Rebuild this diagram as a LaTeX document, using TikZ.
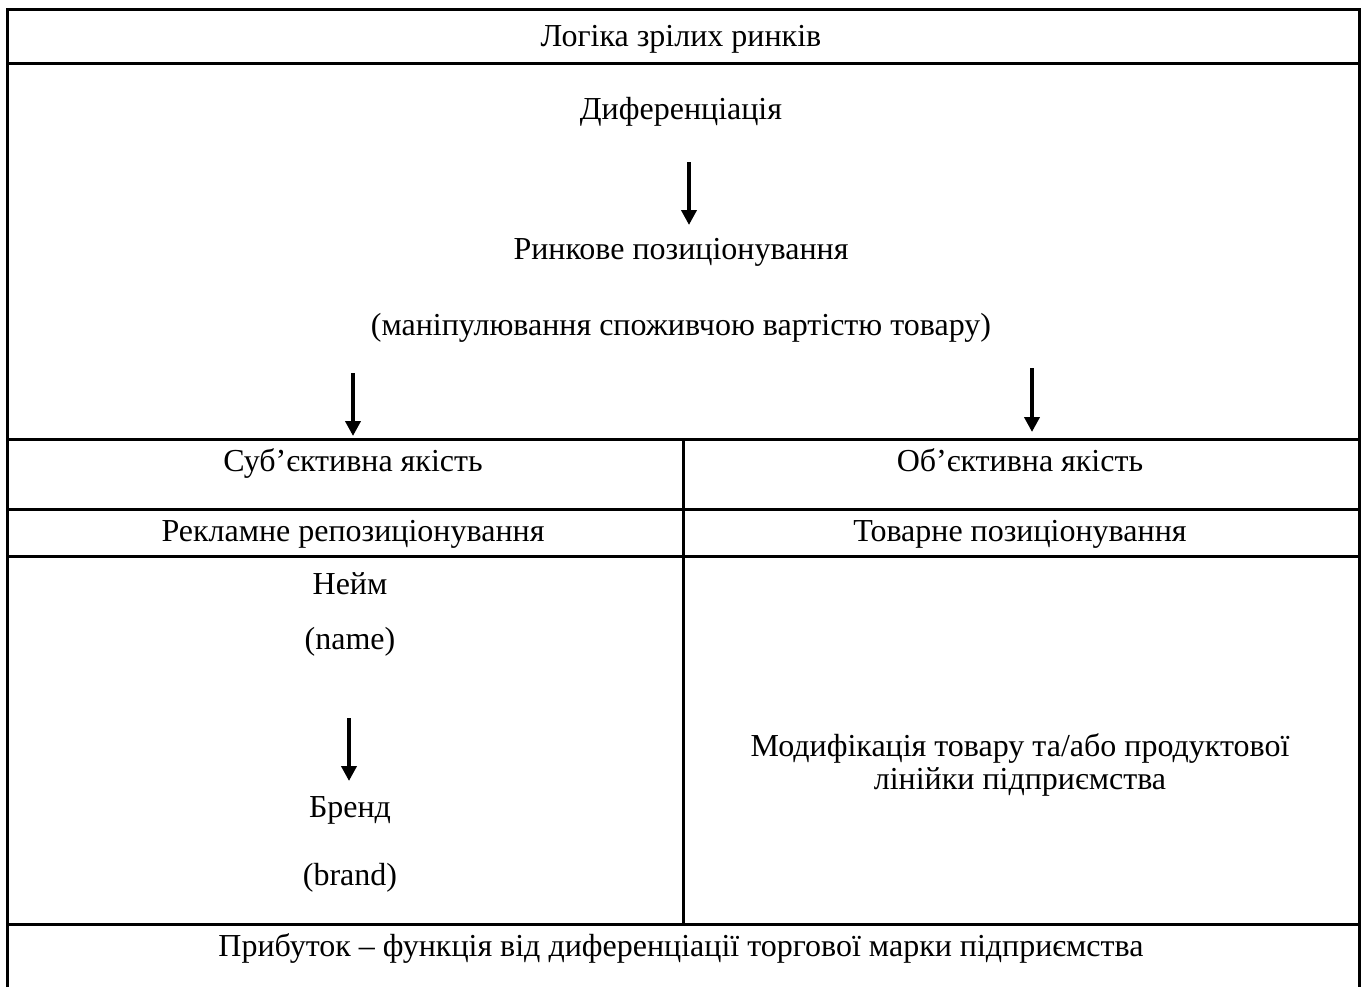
\documentclass[tikz,border=0pt]{standalone}
\usepackage{fontspec}
\setmainfont{Liberation Serif}
\usetikzlibrary{arrows.meta}
\tikzset{
  txt/.style={anchor=base, inner sep=0pt, font=\fontsize{16}{16.5}\selectfont},
  rule/.style={line width=1.5pt},
  down/.style={line width=2pt, -{Triangle[width=7.5pt,length=7.5pt]}}
}
\begin{document}
\begin{tikzpicture}[x=0.5pt,y=-0.5pt]
  \useasboundingbox (0,0) rectangle (1362,987);
  % frame and rows
  \draw[rule] (7,987) -- (7,9) -- (1359,9) -- (1359,987);
  \draw[rule] (7,63) -- (1359,63);
  \draw[rule] (7,439) -- (1359,439);
  \draw[rule] (7,509) -- (1359,509);
  \draw[rule] (7,556) -- (1359,556);
  \draw[rule] (7,924) -- (1359,924);
  \draw[rule] (683,439) -- (683,924);
  % top block
  \node[txt] (logic) at (681,46) {Логіка зрілих ринків};
  \node[txt] (diff) at (681,119) {Диференціація};
  \node[txt] (pos) at (681,259) {Ринкове позиціонування};
  \node[txt] (manip) at (681,335) {(маніпулювання споживчою вартістю товару)};
  \coordinate (a1) at (689,162); \coordinate (b1) at (689,225);
  \coordinate (a2) at (353,373); \coordinate (b2) at (353,436);
  \coordinate (a3) at (1032,368); \coordinate (b3) at (1032,432);
  \draw[down] (a1) -- (b1);
  \draw[down] (a2) -- (b2);
  \draw[down] (a3) -- (b3);
  % two columns
  \node[txt] (subj) at (353,471) {Суб’єктивна якість};
  \node[txt] (obj) at (1020,471) {Об’єктивна якість};
  \node[txt] (adv) at (353,541) {Рекламне репозиціонування};
  \node[txt] (prod) at (1020,541) {Товарне позиціонування};
  \node[txt] (name) at (350,594) {Нейм};
  \node[txt] (nameen) at (350,649) {(name)};
  \coordinate (a4) at (349,718); \coordinate (b4) at (349,781);
  \draw[down] (a4) -- (b4);
  \node[txt] (brand) at (350,817) {Бренд};
  \node[txt] (branden) at (350,885) {(brand)};
  \node[txt] (modif) at (1020,756) {Модифікація товару та/або продуктової};
  \node[txt] (modif2) at (1020,789) {лінійки підприємства};
  % bottom row
  \node[txt] (profit) at (681,956) {Прибуток – функція від диференціації торгової марки підприємства};
\end{tikzpicture}
\end{document}
